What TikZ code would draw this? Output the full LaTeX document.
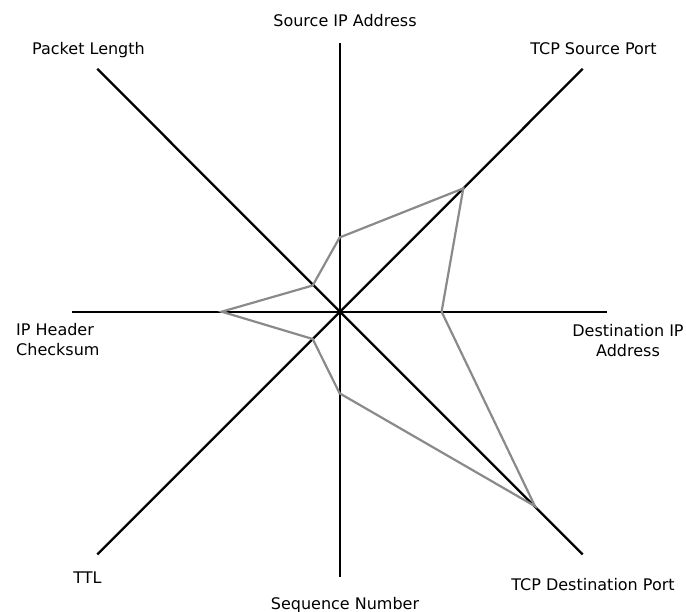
\documentclass[tikz,border=0pt]{standalone}
\usepackage{fontspec}
\setmainfont{DejaVu Sans}
\definecolor{profilegray}{RGB}{138,138,138}
\begin{document}
\begin{tikzpicture}[x=1pt,y=-1pt,
  axis/.style={line width=2.3pt,black},
  profile/.style={line width=2.2pt,draw=profilegray,line join=miter},
  lbl/.style={inner sep=0pt,font=\fontsize{16}{20}\selectfont,anchor=base}]
\useasboundingbox (0,0) rectangle (686,612);

% centre of the radar chart and the ends of its eight axes
\coordinate (O)  at (340,311.7);
\coordinate (aN)  at (340,43.3);
\coordinate (aNE) at (582.7,68.9);
\coordinate (aE)  at (606.7,311.7);
\coordinate (aSE) at (582.7,554.5);
\coordinate (aS)  at (340,577);
\coordinate (aSW) at (97.3,554.5);
\coordinate (aW)  at (72.3,311.7);
\coordinate (aNW) at (97.3,68.9);

\foreach \e in {aN,aNE,aE,aSE,aS,aSW,aW,aNW}
  \draw[axis] (O) -- (\e);

% measured values on each axis
\coordinate (vN)  at (339.6,237.5);
\coordinate (vNE) at (463.3,188.4);
\coordinate (vE)  at (441.6,311.7);
\coordinate (vSE) at (535.0,506.2);
\coordinate (vS)  at (339.6,393.3);
\coordinate (vSW) at (312.7,339.0);
\coordinate (vW)  at (221.7,311.7);
\coordinate (vNW) at (312.7,285.5);

\draw[profile] (vN) -- (vNE) -- (vE) -- (vSE) -- (vS) -- (vSW) -- (vW) -- (vNW) -- cycle;

% axis labels (base of a two-line label is its last line)
\node[lbl] (lN)  at (345,26.5)  {Source IP Address};
\node[lbl] (lNW) at (88.5,54.5) {Packet Length};
\node[lbl] (lNE) at (593.5,54.5) {TCP Source Port};
\node[lbl,anchor=base west,align=left] (lW) at (16,355.7) {IP Header\\Checksum};
\node[lbl,align=center] (lE) at (628,356.7) {Destination IP\\Address};
\node[lbl] (lSW) at (87.5,583) {TTL};
\node[lbl] (lSE) at (593,590) {TCP Destination Port};
\node[lbl] (lS)  at (345,609) {Sequence Number};
\end{tikzpicture}
\end{document}
